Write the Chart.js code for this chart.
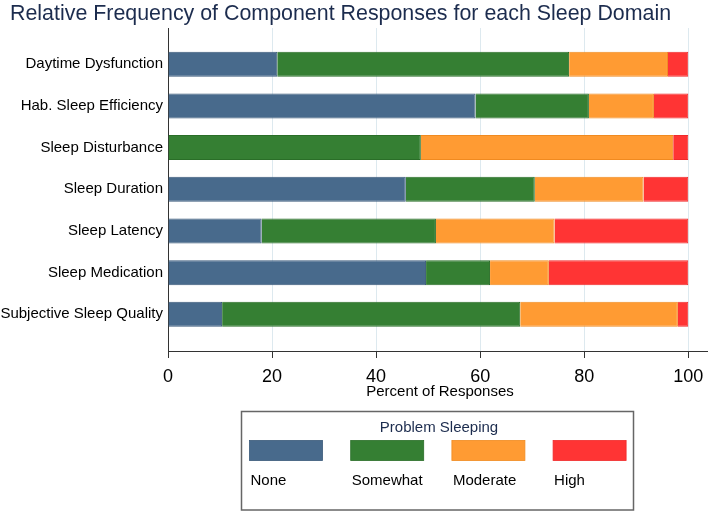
<!DOCTYPE html>
<html>
<head>
<meta charset="utf-8">
<script src="https://cdn.jsdelivr.net/npm/chart.js@4/dist/chart.umd.min.js"></script>
<style>
  html, body { margin: 0; padding: 0; background: #fff; }
  #wrap { width: 709px; height: 512px; }
</style>
</head>
<body>
<div id="wrap"><canvas id="sleepChart" width="709" height="512"></canvas></div>
<script>
const domains = ['Daytime Dysfunction', 'Hab. Sleep Efficiency', 'Sleep Disturbance', 'Sleep Duration',
    'Sleep Latency', 'Sleep Medication', 'Subjective Sleep Quality'];
const levelNames = ['None', 'Somewhat', 'Moderate', 'High'];
const noneVals = [21.0, 59.1, 0, 45.7, 18.0, 49.6, 10.4];
const somewhatVals = [56.1, 21.8, 48.6, 24.8, 33.5, 12.3, 57.3];
const moderateVals = [19.0, 12.5, 48.5, 20.9, 22.8, 11.3, 30.3];
const highVals = [3.9, 6.6, 2.9, 8.6, 25.7, 26.8, 2.0];
const xTicks = [0, 20, 40, 60, 80, 100];

const fills = ['#486a8c', '#357f33', '#ff9b33', '#ff3434'];
const edges = ['#3a5a7a', '#2a6e28', '#f08a20', '#f02a2a'];

function toPoints(vals) {
    return vals.map((v, i) => ({ x: v, y: i }));
}

const allVals = [noneVals, somewhatVals, moderateVals, highVals];
const datasets = allVals.map((vals, k) => ({
    label: levelNames[k],
    data: toPoints(vals),
    backgroundColor: fills[k],
    borderColor: edges[k],
    borderWidth: 1,
    barPercentage: 0.6,
    categoryPercentage: 1.0
}));

const textPlugin = {
    id: 'textPlugin',
    afterDraw(chart) {
        const ctx = chart.ctx;
        ctx.save();
        // title
        ctx.fillStyle = '#1c2c4e';
        ctx.font = '21.4px "Liberation Sans", Arial, sans-serif';
        ctx.textAlign = 'left';
        ctx.textBaseline = 'alphabetic';
        ctx.fillText('Relative Frequency of Component Responses for each Sleep Domain', 10, 19.5);

        // x axis title
        ctx.fillStyle = '#000';
        ctx.font = '15px "Liberation Sans", Arial, sans-serif';
        ctx.textAlign = 'center';
        ctx.textBaseline = 'middle';
        ctx.fillText('Percent of Responses', 440, 392);

        // legend box
        ctx.strokeStyle = '#666';
        ctx.lineWidth = 1.5;
        ctx.strokeRect(241.5, 411.5, 392, 98.5);
        ctx.fillStyle = '#1c2c4e';
        ctx.font = '15px "Liberation Sans", Arial, sans-serif';
        ctx.fillText('Problem Sleeping', 439, 428);
        chart.data.datasets.forEach((ds, k) => {
            const x = 249.5 + k * 101.2;
            ctx.fillStyle = ds.backgroundColor;
            ctx.fillRect(x, 440.5, 73, 20);
            ctx.strokeStyle = ds.borderColor;
            ctx.lineWidth = 0.8;
            ctx.strokeRect(x, 440.5, 73, 20);
            ctx.fillStyle = '#000';
            ctx.font = '15px "Liberation Sans", Arial, sans-serif';
            ctx.textAlign = 'left';
            ctx.fillText(ds.label, x + 1, 481);
        });
        ctx.restore();
    }
};

new Chart(document.getElementById('sleepChart').getContext('2d'), {
    type: 'bar',
    data: { datasets: datasets },
    options: {
        indexAxis: 'y',
        responsive: false,
        animation: false,
        layout: { padding: { top: 28, right: 2, left: 0, bottom: 0 } },
        plugins: {
            legend: { display: false },
            tooltip: { enabled: false }
        },
        scales: {
            x: {
                type: 'linear',
                stacked: true,
                min: 0,
                max: 103.6,
                afterBuildTicks: axis => { axis.ticks = xTicks.map(v => ({ value: v })); },
                afterFit: axis => {
                    axis.height = 161;
                    axis.paddingLeft = 0;
                    axis.paddingRight = 0;
                },
                grid: { color: '#dde9ef', tickColor: '#333', tickLength: 7, lineWidth: 1 },
                border: { display: true, color: '#333', width: 1 },
                ticks: {
                    color: '#000',
                    padding: 8,
                    maxRotation: 0,
                    font: { family: '"Liberation Sans", Arial, sans-serif', size: 18 }
                }
            },
            y: {
                type: 'linear',
                stacked: true,
                reverse: true,
                offset: false,
                min: -0.87,
                max: 6.88,
                afterBuildTicks: axis => { axis.ticks = domains.map((d, i) => ({ value: i })); },
                afterFit: axis => { axis.width = 168; },
                grid: { display: false, drawTicks: false },
                border: { display: true, color: '#333', width: 1 },
                ticks: {
                    color: '#000',
                    padding: 5,
                    callback: v => domains[v],
                    font: { family: '"Liberation Sans", Arial, sans-serif', size: 15 }
                }
            }
        }
    },
    plugins: [textPlugin]
});
</script>
</body>
</html>
